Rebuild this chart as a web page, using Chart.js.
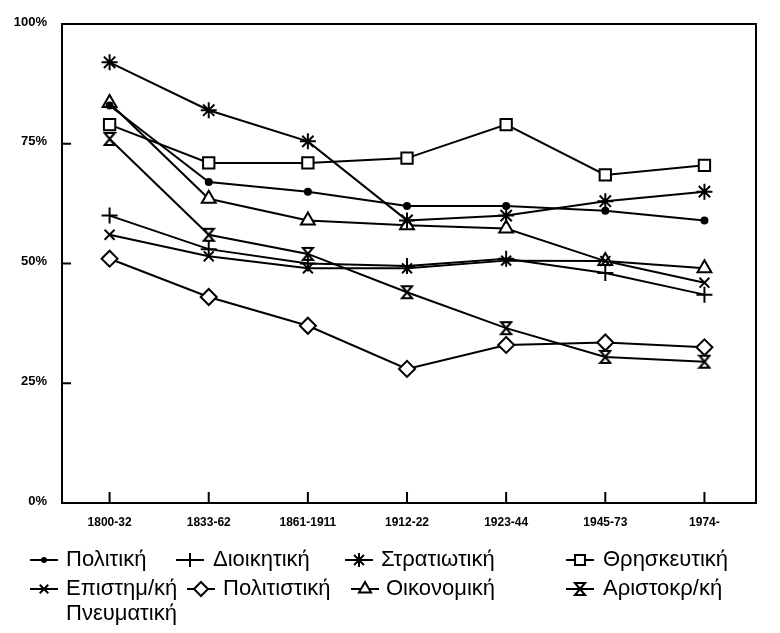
<!DOCTYPE html>
<html>
<head>
<meta charset="utf-8">
<script src="https://cdn.jsdelivr.net/npm/chart.js@4.4.1/dist/chart.umd.min.js"></script>
<style>
  html, body { margin: 0; padding: 0; background: #fff; }
  #wrap { width: 780px; height: 633px; }
</style>
</head>
<body>
<div id="wrap"><canvas id="myChart" width="780" height="633"></canvas></div>
<script>
// periods (x axis)
const periods = ['1800-32', '1833-62', '1861-1911', '1912-22', '1923-44', '1945-73', '1974-'];
const yTicks = [0, 25, 50, 75, 100];

// share of each elite group, %
const politiki      = [83, 67, 65, 62, 62, 61, 59];
const dioikitiki    = [60, 53, 50, 49.5, 51, 48, 43.5];
const stratiotiki   = [92, 82, 75.5, 59, 60, 63, 65];
const thriskeftiki  = [79, 71, 71, 72, 79, 68.5, 70.5];
const epistimiki    = [56, 51.5, 49, 49, 50.6, 50.5, 46];
const politistiki   = [51, 43, 37, 28, 33, 33.5, 32.5];
const oikonomiki    = [83.5, 63.5, 59, 58, 57.3, 50.5, 49];
const aristokratiki = [76, 56, 52, 44, 36.5, 30.5, 29.5];

// hourglass marker (no built-in style for it)
const hourglass = document.createElement('canvas');
hourglass.width = 14; hourglass.height = 16;
(function () {
    const c = hourglass.getContext('2d');
    c.lineWidth = 2;
    c.strokeStyle = '#000';
    c.fillStyle = '#fff';
    c.beginPath();
    c.moveTo(2, 2); c.lineTo(12, 2); c.lineTo(2, 14); c.lineTo(12, 14);
    c.closePath();
    c.fill(); c.stroke();
})();

const series = [
    { label: 'Πολιτική',     data: politiki,      style: 'circle',   r: 3, fill: '#000' },
    { label: 'Διοικητική',   data: dioikitiki,    style: 'cross',    r: 8, fill: '#fff' },
    { label: 'Στρατιωτική',  data: stratiotiki,   style: 'star',     r: 8, fill: '#fff' },
    { label: 'Θρησκευτική',  data: thriskeftiki,  style: 'rect',     r: 8, fill: '#fff' },
    { label: 'Επιστημ/κή',   data: epistimiki,    style: 'crossRot', r: 7, fill: '#fff', extra: 'Πνευματική' },
    { label: 'Πολιτιστική',  data: politistiki,   style: 'rectRot',  r: 8, fill: '#fff' },
    { label: 'Οικονομική',   data: oikonomiki,    style: 'triangle', r: 8, fill: '#fff' },
    { label: 'Αριστοκρ/κή',  data: aristokratiki, style: hourglass,  r: 7, fill: '#fff' }
];

// legend placement: [marker left, text left, row]
const legendPos = [
    [30, 66, 0], [176, 213, 0], [345, 381, 0], [566, 603, 0],
    [30, 66, 1], [187, 223, 1], [351, 386, 1], [566, 603, 1]
];
const legendRows = [560, 589, 614];

const frame = {
    id: 'frame',
    afterDraw(chart) {
        const { ctx, chartArea: a, scales: { x, y } } = chart;
        ctx.save();
        ctx.strokeStyle = '#000';
        ctx.lineWidth = 2;
        ctx.strokeRect(a.left, a.top, a.right - a.left, a.bottom - a.top);
        ctx.beginPath();
        yTicks.slice(1, -1).forEach(v => {
            const py = y.getPixelForValue(v);
            ctx.moveTo(a.left, py); ctx.lineTo(a.left + 9, py);
        });
        periods.forEach((p, i) => {
            const px = x.getPixelForValue(i);
            ctx.moveTo(px, a.bottom); ctx.lineTo(px, a.bottom - 11);
        });
        ctx.stroke();

        // legend
        ctx.font = '22px "Liberation Sans", Arial, sans-serif';
        ctx.fillStyle = '#000';
        ctx.textBaseline = 'middle';
        series.forEach((s, i) => {
            const [mx, tx, row] = legendPos[i];
            const ly = legendRows[row];
            ctx.lineWidth = 2;
            ctx.beginPath();
            ctx.moveTo(mx, ly); ctx.lineTo(mx + 28, ly);
            ctx.stroke();
            ctx.fillStyle = s.fill;
            Chart.helpers.drawPoint(ctx, { pointStyle: s.style, radius: s.r - 1, rotation: 0, borderWidth: 2 }, mx + 14, ly);
            ctx.fillStyle = '#000';
            ctx.fillText(s.label, tx, ly);
            if (s.extra) ctx.fillText(s.extra, tx, legendRows[row + 1]);
        });
        ctx.restore();
    }
};

const ctx = document.getElementById('myChart').getContext('2d');
new Chart(ctx, {
    type: 'line',
    data: {
        datasets: series.map(s => ({
            label: s.label,
            data: s.data.map((v, i) => ({ x: i, y: v })),
            borderColor: '#000',
            borderWidth: 2,
            pointStyle: s.style,
            pointRadius: s.r,
            pointBorderWidth: 2,
            pointBorderColor: '#000',
            pointBackgroundColor: s.fill,
            fill: false,
            tension: 0
        }))
    },
    options: {
        responsive: false,
        animation: false,
        layout: { padding: { left: 0, top: 24, right: 24, bottom: 100 } },
        scales: {
            x: {
                type: 'linear',
                min: -0.48,
                max: 6.52,
                afterBuildTicks: s => { s.ticks = periods.map((p, i) => ({ value: i })); },
                afterFit: s => { s.height = 30; },
                grid: { display: false, drawTicks: false },
                border: { display: false },
                ticks: {
                    padding: 12,
                    color: '#000',
                    maxRotation: 0,
                    autoSkip: false,
                    font: { family: '"Liberation Sans", Arial, sans-serif', size: 12, weight: 'bold' },
                    callback: v => periods[v]
                }
            },
            y: {
                min: 0,
                max: 100,
                afterBuildTicks: s => { s.ticks = yTicks.map(v => ({ value: v })); },
                afterFit: s => { s.width = 62; },
                grid: { display: false, drawTicks: false },
                border: { display: false },
                ticks: {
                    padding: 15,
                    labelOffset: -2,
                    color: '#000',
                    font: { family: '"Liberation Sans", Arial, sans-serif', size: 13, weight: 'bold' },
                    callback: v => v + '%'
                }
            }
        },
        plugins: {
            legend: { display: false },
            tooltip: { enabled: false }
        }
    },
    plugins: [frame]
});
</script>
</body>
</html>
